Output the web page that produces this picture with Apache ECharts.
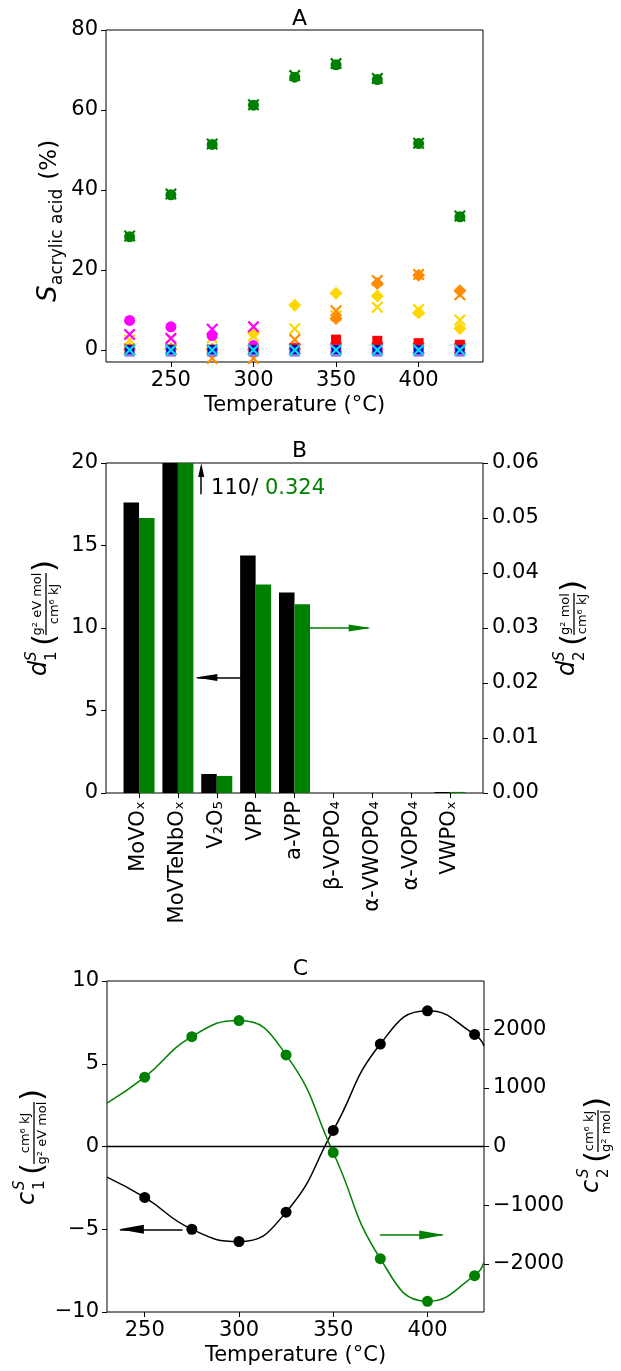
<!DOCTYPE html>
<html>
<head>
<meta charset="utf-8">
<script src="https://cdn.jsdelivr.net/npm/echarts@6/dist/echarts.min.js"></script>
<style>
  html, body { margin: 0; padding: 0; background: #fff; }
  #main { width: 621px; height: 1371px; }
</style>
</head>
<body>
<div id="main"></div>
<script>
// ---- panel A : selectivity to acrylic acid ----
var tempA = [225, 250, 275, 300, 325, 350, 375, 400, 425];
var greenDot   = [28.3, 38.8, 51.4, 61.2, 68.2, 71.3, 67.6, 51.6, 33.3];
var greenX     = [28.5, 39.0, 51.5, 61.3, 68.6, 71.6, 67.9, 51.7, 33.5];
var magentaDot = [7.4, 5.8, 3.6, 1.1, 0.3, 0.3, 0.2, 0.2, 0.1];
var magentaX   = [3.9, 2.9, 5.2, 5.8, 0.3, 0.2, 0.2, 0.1, 0.1];
var goldDia    = [0.3, 0.3, 0.2, 4.2, 11.2, 14.2, 13.5, 9.3, 5.4];
var goldX      = [2.5, 2.9, 3.0, 3.5, 5.3, 8.6, 10.7, 10.1, 7.5];
var orangeDia  = [0.2, 0.2, 0.1, 0.1, 0.3, 7.9, 16.6, 18.7, 14.8];
var orangeX    = [0.3, 0.3, -2.1, -2.1, 2.6, 9.8, 17.4, 18.9, 13.8];
var redSq      = [0.1, 0.1, 0.1, 0.1, 0.4, 2.6, 2.3, 1.7, 1.3];
var redX       = [0.0, 0.0, 0.0, 0.0, 0.2, 0.6, 0.6, 0.5, 0.4];
var purpleSq   = [-0.4, -0.4, -0.4, -0.4, -0.4, -0.4, -0.4, -0.4, -0.4];
var blueSq     = [0.1, 0.1, 0.1, 0.1, 0.1, 0.1, 0.1, 0.1, 0.1];
var cyanX      = [0.0, 0.0, 0.0, 0.0, 0.0, 0.0, 0.0, 0.0, 0.0];
var ticksTempA = [250, 300, 350, 400];
var ticksSA    = [0, 20, 40, 60, 80];

// ---- panel B : descriptors per catalyst ----
var catB = ['MoVOₓ', 'MoVTeNbOₓ', 'V₂O₅', 'VPP', 'a-VPP', 'β-VOPO₄', 'α-VWOPO₄', 'α-VOPO₄', 'VWPOₓ'];
var d1 = [17.6, 110, 1.15, 14.4, 12.15, 0, 0, 0, 0.06];
var d2 = [0.0500, 0.324, 0.0031, 0.0379, 0.0343, 0, 0, 0, 0.0002];
var catTicks = [0, 1, 2, 3, 4, 5, 6, 7, 8];

// ---- panel C : coefficients vs temperature ----
var tempC = [250, 275, 300, 325, 350, 375, 400, 425];
var c1 = [-3.08, -5.0, -5.74, -3.97, 0.97, 6.19, 8.2, 6.77];
var c2 = [1181, 1872, 2145, 1561, -102, -1911, -2638, -2201];
var tempCurve = [230, 250, 275, 300, 325, 350, 375, 400, 425, 430];
var c1Curve = [-1.85, -3.08, -5.0, -5.74, -3.97, 0.97, 6.19, 8.2, 6.77, 6.08];
var c2Curve = [738, 1181, 1872, 2145, 1561, -102, -1911, -2638, -2201, -1974];
var ticksTempC = [250, 300, 350, 400];
var ticksC2 = [-2000, -1000, 0, 1000, 2000];

var FONT = 'DejaVu Sans';
var FS = 21;
var GREEN = '#008000';
var crossPath = 'path://M0,1.3L1.3,0L5,3.7L8.7,0L10,1.3L6.3,5L10,8.7L8.7,10L5,6.3L1.3,10L0,8.7L3.7,5Z';

function pairs(xs, ys) {
    return xs.map(function (x, i) { return [x, ys[i]]; });
}
function minus(v) {
    return String(v).replace('-', '\u2212');
}

function scat(ys, color, symbol, size) {
    return {
        type: 'scatter', xAxisIndex: 0, yAxisIndex: 0,
        data: pairs(tempA, ys), symbol: symbol, symbolSize: size,
        itemStyle: { color: color, opacity: 1 }, silent: true
    };
}

function arrowLine(from, to, color) {
    return [{ coord: from, lineStyle: { color: color, width: 1.5, type: 'solid' } }, { coord: to }];
}
function arrowHead(at, rot, size, offset, color) {
    return { coord: at, symbol: 'triangle', symbolSize: size, symbolRotate: rot,
             symbolOffset: offset, itemStyle: { color: color, opacity: 1 } };
}

function valueAxis(grid, extra) {
    var a = {
        gridIndex: grid, type: 'value', scale: false,
        axisLine: { show: false, onZero: false },
        splitLine: { show: false },
        axisTick: { show: true, length: 5, lineStyle: { color: '#000', width: 1 } },
        axisLabel: { fontFamily: FONT, fontSize: FS, color: '#000', margin: 8 },
        nameTextStyle: { fontFamily: FONT, fontSize: FS, color: '#000' }
    };
    for (var k in extra) {
        if (k === 'axisLabel' || k === 'axisTick') {
            for (var j in extra[k]) a[k][j] = extra[k][j];
        } else {
            a[k] = extra[k];
        }
    }
    return a;
}

// rotated axis titles with a fraction, matplotlib mathtext style
function txt(x, y, s, font, align, color) {
    return { type: 'text', x: x, y: y, silent: true,
             style: { text: s, font: font, fill: color || '#000',
                      align: align || 'left', verticalAlign: 'middle',
                      textAlign: align || 'left', textVerticalAlign: 'middle' } };
}
function fracLabel(cx, cy, main, sub, num, den, fw) {
    var L = 15 + 10 + 6 + 10 + fw + 11;
    var x0 = -L / 2;
    var fx = x0 + 41;
    return {
        type: 'group', x: cx, y: cy, rotation: Math.PI / 2, silent: true,
        children: [
            txt(x0, -6, main, 'italic 24px ' + FONT),
            txt(x0 + 15, -14, 'S', 'italic 15px ' + FONT),
            txt(x0 + 15, 6, sub, '15px ' + FONT),
            txt(x0 + 30, 0, '(', '31px ' + FONT),
            txt(fx + fw / 2, -8, num, '13px ' + FONT, 'center'),
            { type: 'line', shape: { x1: fx, y1: 0, x2: fx + fw, y2: 0 },
              style: { stroke: '#000', lineWidth: 1.3 }, silent: true },
            txt(fx + fw / 2, 9, den, '13px ' + FONT, 'center'),
            txt(fx + fw + 1, 0, ')', '31px ' + FONT)
        ]
    };
}

var chart = echarts.init(document.getElementById('main'), null, { renderer: 'canvas' });

var titleStyle = { fontFamily: FONT, fontSize: 22, fontWeight: 'normal', color: '#000' };

var option = {
    backgroundColor: '#fff',
    animation: false,
    textStyle: { fontFamily: FONT },
    title: [
        { text: 'A', left: 294.5, textAlign: 'center', top: 3, textStyle: titleStyle },
        { text: 'B', left: 294.5, textAlign: 'center', top: 435, textStyle: titleStyle },
        { text: 'C', left: 295.5, textAlign: 'center', top: 953, textStyle: titleStyle }
    ],
    grid: [
        { left: 106, top: 30, width: 377, height: 332, show: true, borderColor: '#000', borderWidth: 1, backgroundColor: 'transparent' },
        { left: 106, top: 463, width: 377, height: 330, show: true, borderColor: '#000', borderWidth: 1, backgroundColor: 'transparent' },
        { left: 107, top: 981, width: 377, height: 331, show: true, borderColor: '#000', borderWidth: 1, backgroundColor: 'transparent' }
    ],
    xAxis: [
        valueAxis(0, { min: 210.7, max: 439, name: 'Temperature (°C)', nameLocation: 'middle', nameGap: 33,
            axisTick: { customValues: ticksTempA }, axisLabel: { customValues: ticksTempA, margin: 8 } }),
        valueAxis(1, { min: -0.85, max: 8.85,
            axisTick: { customValues: catTicks },
            axisLabel: { customValues: catTicks, rotate: 90, margin: 8,
                         formatter: function (v) { return catB[Math.round(v)]; } } }),
        valueAxis(2, { min: 230, max: 430, name: 'Temperature (°C)', nameLocation: 'middle', nameGap: 33,
            axisTick: { customValues: ticksTempC }, axisLabel: { customValues: ticksTempC, margin: 8 } })
    ],
    yAxis: [
        valueAxis(0, { min: -3, max: 80,
            axisTick: { customValues: ticksSA }, axisLabel: { customValues: ticksSA } }),
        valueAxis(1, { min: 0, max: 20, interval: 5 }),
        valueAxis(1, { min: 0, max: 0.06, interval: 0.01, position: 'right',
            axisLabel: { margin: 9, formatter: function (v) { return v.toFixed(2); } } }),
        valueAxis(2, { min: -10, max: 10, interval: 5,
            axisLabel: { formatter: minus } }),
        valueAxis(2, { min: -2820, max: 2820, position: 'right',
            axisTick: { customValues: ticksC2 },
            axisLabel: { customValues: ticksC2, margin: 9, formatter: minus } })
    ],
    series: [
        // panel A
        scat(goldDia, '#ffd700', 'diamond', 13),
        scat(goldX, '#ffd700', crossPath, 12),
        scat(orangeDia, '#ff8c00', 'diamond', 13),
        scat(orangeX, '#ff8c00', crossPath, 12),
        scat(magentaDot, '#ff00ff', 'circle', 11),
        scat(magentaX, '#ff00ff', crossPath, 12),
        scat(redSq, '#ff0000', 'rect', 10),
        scat(redX, '#ff0000', crossPath, 12),
        scat(purpleSq, '#9370db', 'rect', 10),
        scat(blueSq, '#0000cd', 'rect', 9),
        scat(cyanX, '#00e0f0', crossPath, 12),
        scat(greenDot, GREEN, 'circle', 11),
        scat(greenX, GREEN, crossPath, 12),

        // panel B
        {
            type: 'bar', xAxisIndex: 1, yAxisIndex: 1, data: pairs(catTicks, d1),
            barWidth: 15.5, barGap: '0%', itemStyle: { color: '#000' }, silent: true, clip: true
        },
        {
            type: 'bar', xAxisIndex: 1, yAxisIndex: 2, data: pairs(catTicks, d2),
            barWidth: 15.5, barGap: '0%', itemStyle: { color: GREEN }, silent: true, clip: true
        },
        {
            // off-scale note and the two axis arrows (left-axis units)
            type: 'scatter', xAxisIndex: 1, yAxisIndex: 1, data: [[1.84, 18.45]],
            symbolSize: 1, itemStyle: { color: 'transparent', opacity: 1 }, silent: true,
            label: {
                show: true, position: 'right', distance: 0,
                formatter: '{k|110/ }{g|0.324}',
                rich: {
                    k: { fontFamily: FONT, fontSize: FS, color: '#000' },
                    g: { fontFamily: FONT, fontSize: FS, color: GREEN }
                }
            },
            markLine: {
                silent: true, symbol: 'none', label: { show: false },
                data: [
                    arrowLine([2.63, 7], [1.5, 7], '#000'),
                    arrowLine([1.6, 18.1], [1.6, 19.7], '#000'),
                    arrowLine([4.39, 10], [5.9, 10], GREEN)
                ]
            },
            markPoint: {
                silent: true, label: { show: false },
                data: [
                    arrowHead([1.45, 7], 90, [7, 22], [11, 0], '#000'),
                    arrowHead([1.6, 20], 0, [6, 14], [0, 7], '#000'),
                    arrowHead([5.96, 10], -90, [7, 22], [-11, 0], GREEN)
                ]
            }
        },

        // panel C
        {
            type: 'line', xAxisIndex: 2, yAxisIndex: 3, data: pairs(tempCurve, c1Curve),
            smooth: 0.5, showSymbol: false, silent: true,
            lineStyle: { color: '#000', width: 1.5 },
            markLine: {
                silent: true, symbol: 'none', label: { show: false },
                data: [
                    [{ coord: [230, 0], lineStyle: { color: '#000', width: 1.3, type: 'solid' } }, { coord: [430, 0] }],
                    arrowLine([270, -5], [237, -5], '#000')
                ]
            },
            markPoint: {
                silent: true, label: { show: false },
                data: [arrowHead([236.3, -5], 90, [9, 25], [12.5, 0], '#000')]
            }
        },
        {
            type: 'line', xAxisIndex: 2, yAxisIndex: 4, data: pairs(tempCurve, c2Curve),
            smooth: 0.5, showSymbol: false, silent: true,
            lineStyle: { color: GREEN, width: 1.5 },
            markLine: {
                silent: true, symbol: 'none', label: { show: false },
                data: [arrowLine([374.8, -1508], [408, -1508], GREEN)]
            },
            markPoint: {
                silent: true, label: { show: false },
                data: [arrowHead([408.9, -1508], -90, [9, 25], [-12.5, 0], GREEN)]
            }
        },
        {
            type: 'scatter', xAxisIndex: 2, yAxisIndex: 3, data: pairs(tempC, c1),
            symbol: 'circle', symbolSize: 11, itemStyle: { color: '#000', opacity: 1 }, silent: true
        },
        {
            type: 'scatter', xAxisIndex: 2, yAxisIndex: 4, data: pairs(tempC, c2),
            symbol: 'circle', symbolSize: 11, itemStyle: { color: GREEN, opacity: 1 }, silent: true
        }
    ],
    graphic: [
        {
            type: 'group', x: 52, y: 214, rotation: Math.PI / 2, silent: true,
            children: [
                txt(-88, -3, 'S', 'italic 26px ' + FONT),
                txt(-71, 6, 'acrylic acid', '17px ' + FONT),
                txt(27, -2, ' (%)', '23px ' + FONT)
            ]
        },
        fracLabel(46, 619, 'd', '1', 'g² eV mol', 'cm⁶ kJ', 62),
        fracLabel(574, 629, 'd', '2', 'g² mol', 'cm⁶ kJ', 42),
        fracLabel(34, 1148, 'c', '1', 'cm⁶ kJ', 'g² eV mol', 62),
        fracLabel(598, 1146, 'c', '2', 'cm⁶ kJ', 'g² mol', 42)
    ]
};

chart.setOption(option);
</script>
</body>
</html>
